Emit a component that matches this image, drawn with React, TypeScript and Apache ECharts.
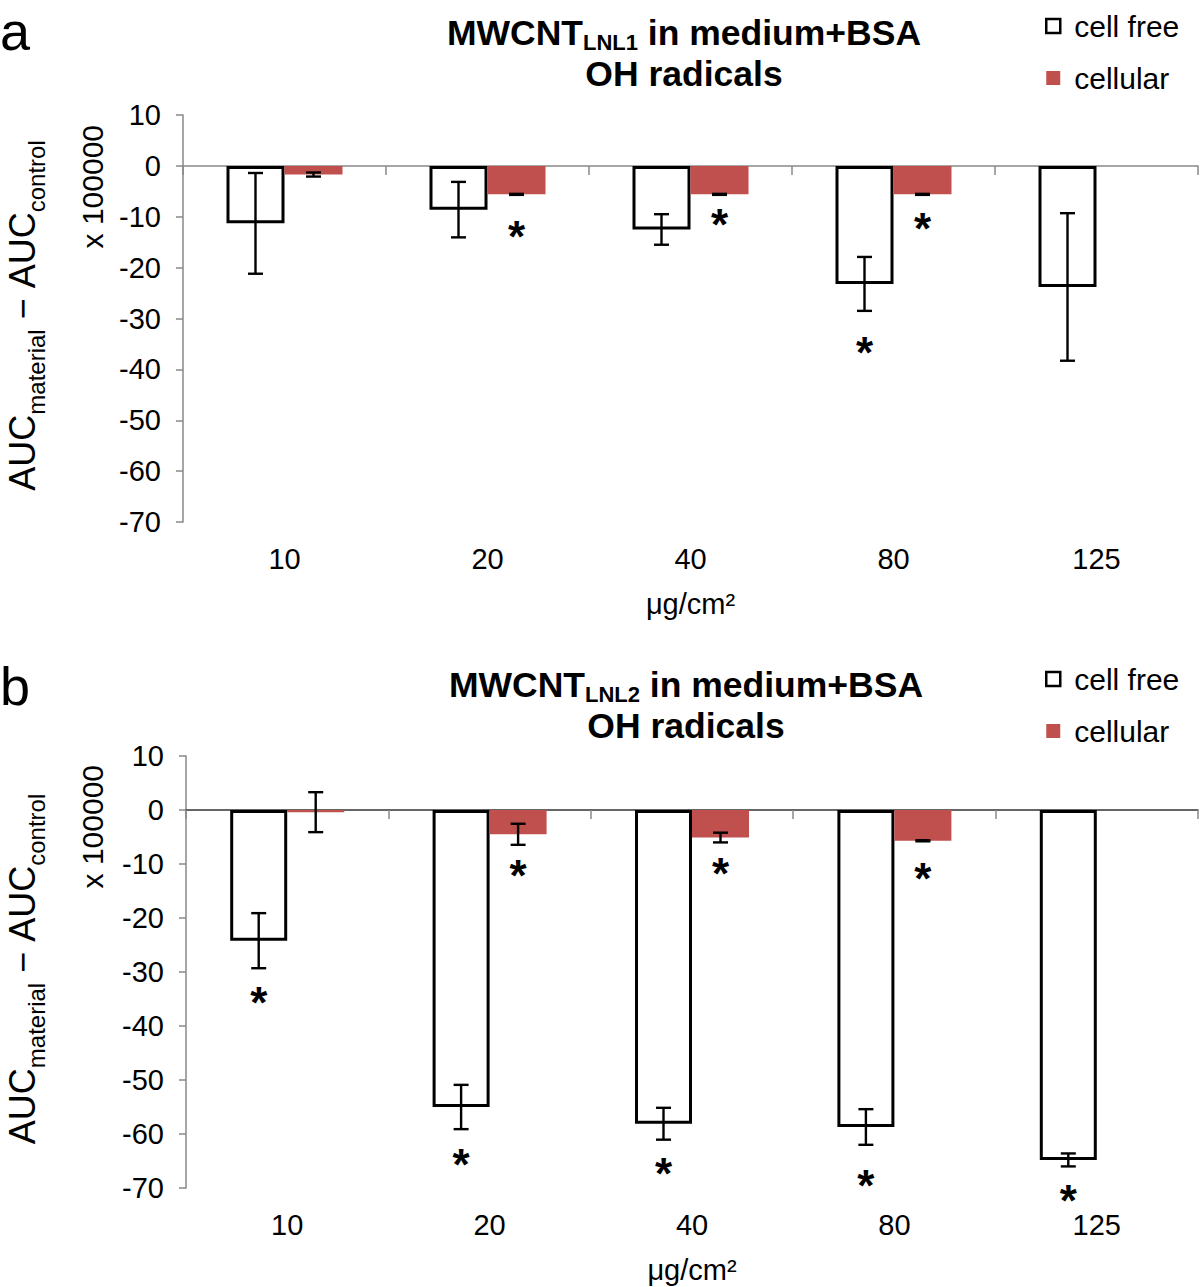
import React, { useEffect, useRef } from 'react';
import * as echarts from 'echarts';

// ---------------- data ----------------
const categories = ['10', '20', '40', '80', '125'];

// panel a : MWCNT LNL1
const cellFreeA = [-11.3, -8.6, -12.5, -23.2, -23.8];
const cellFreeErrA = [9.9, 5.45, 3.0, 5.3, 14.5];
const cellularA: (number | null)[] = [-1.7, -5.6, -5.6, -5.6, null];
const cellularErrA: (number | null)[] = [0.4, 0.1, 0.1, 0.1, null];
const starCellFreeA: (number | null)[] = [null, null, null, -35.6, null];
const starCellularA: (number | null)[] = [null, -12.8, -10.4, -11.2, null];

// panel b : MWCNT LNL2
const cellFreeB = [-24.2, -55.0, -58.1, -58.7, -64.8];
const cellFreeErrB = [5.1, 4.1, 2.95, 3.3, 1.2];
const cellularB: (number | null)[] = [-0.4, -4.5, -5.1, -5.7, null];
const cellularErrB: (number | null)[] = [3.7, 1.95, 0.9, 0.1, null];
const starCellFreeB: (number | null)[] = [-34.6, -64.6, -66.3, -68.5, -71.3];
const starCellularB: (number | null)[] = [null, -11.1, -10.7, -11.7, null];

const yMin = -70;
const yMax = 10;
const yInterval = 10;

const seriesNames = ['cell free', 'cellular'];
const xAxisName = 'μg/cm²';

// ---------------- style ----------------
const FONT = '"Liberation Sans", Arial, Helvetica, sans-serif';
const RED = '#C0504D';
const STAR_SIZE = 44;

let measureCtx: CanvasRenderingContext2D | null = null;
function textWidth(t: string, size: number, weight: string) {
  if (!measureCtx) measureCtx = document.createElement('canvas').getContext('2d');
  measureCtx!.font = `${weight} ${size}px ${FONT}`;
  return measureCtx!.measureText(t).width;
}

type Part = { text: string; size: number; drop: number };

// builds text elements laid out along local x with baseline at local y = 0
function lineParts(parts: Part[], weight: string, startX: number) {
  let x = startX;
  const out: any[] = [];
  parts.forEach((p) => {
    out.push({
      type: 'text',
      x,
      y: p.drop - 0.3465 * p.size,
      style: {
        text: p.text,
        fontSize: p.size,
        fontWeight: weight,
        fontFamily: FONT,
        fill: '#000',
        align: 'left',
        verticalAlign: 'middle',
      },
    });
    x += textWidth(p.text, p.size, weight);
  });
  return out;
}
function partsWidth(parts: Part[], weight: string) {
  return parts.reduce((s, p) => s + textWidth(p.text, p.size, weight), 0);
}

type Panel = {
  grid: { left: number; top: number; width: number; height: number };
  barWidth: number;
  zeroColor: string;
  letter: string;
  letterBase: number;
  sub: string;
  titleCx: number;
  titleBase: [number, number];
  legendTop: number;
  yNameTop: number;
  cf: (number | null)[];
  cfErr: (number | null)[];
  cell: (number | null)[];
  cellErr: (number | null)[];
  starCf: (number | null)[];
  starCell: (number | null)[];
};

const panels: Panel[] = [
  {
    grid: { left: 183, top: 115, width: 1015, height: 407 },
    barWidth: 58,
    zeroColor: '#888',
    letter: 'a',
    letterBase: 50,
    sub: 'LNL1',
    titleCx: 684,
    titleBase: [45, 86],
    legendTop: 6,
    yNameTop: 125,
    cf: cellFreeA,
    cfErr: cellFreeErrA,
    cell: cellularA,
    cellErr: cellularErrA,
    starCf: starCellFreeA,
    starCell: starCellularA,
  },
  {
    grid: { left: 186, top: 756, width: 1012, height: 432 },
    barWidth: 57,
    zeroColor: '#333',
    letter: 'b',
    letterBase: 705,
    sub: 'LNL2',
    titleCx: 686,
    titleBase: [697, 738],
    legendTop: 659,
    yNameTop: 765,
    cf: cellFreeB,
    cfErr: cellFreeErrB,
    cell: cellularB,
    cellErr: cellularErrB,
    starCf: starCellFreeB,
    starCell: starCellularB,
  },
];

const makeErr = (offset: number) => (_params: any, api: any) => {
  const i = api.value(0);
  const v = api.value(1);
  const e = api.value(2);
  const p1 = api.coord([i, v + e]);
  const p2 = api.coord([i, v - e]);
  const x = p1[0] + offset;
  const half = 7.5;
  const style = { stroke: '#000', lineWidth: 2.4, fill: 'none' };
  return {
    type: 'group',
    children: [
      { type: 'line', shape: { x1: x, y1: p1[1], x2: x, y2: p2[1] }, style },
      { type: 'line', shape: { x1: x - half, y1: p1[1], x2: x + half, y2: p1[1] }, style },
      { type: 'line', shape: { x1: x - half, y1: p2[1], x2: x + half, y2: p2[1] }, style },
    ],
  };
};

const makeStar = (offset: number) => (_params: any, api: any) => {
  const p = api.coord([api.value(0), api.value(1)]);
  return {
    type: 'text',
    x: p[0] + offset,
    y: p[1] + 0.12 * STAR_SIZE,
    style: {
      text: '*',
      fontSize: STAR_SIZE,
      fontWeight: 'bold',
      fontFamily: FONT,
      fill: '#000',
      align: 'center',
      verticalAlign: 'middle',
    },
  };
};

function errData(vals: (number | null)[], errs: (number | null)[]) {
  const out: number[][] = [];
  vals.forEach((v, i) => {
    const e = errs[i];
    if (v != null && e != null) out.push([i, v, e]);
  });
  return out;
}
function starData(vals: (number | null)[]) {
  const out: number[][] = [];
  vals.forEach((v, i) => {
    if (v != null) out.push([i, v]);
  });
  return out;
}

function buildOption() {
  const grid: any[] = [];
  const xAxis: any[] = [];
  const yAxis: any[] = [];
  const series: any[] = [];
  const legend: any[] = [];
  const graphic: any[] = [];

  panels.forEach((pn, k) => {
    grid.push({ ...pn.grid, containLabel: false });
    const xi = k * 2;
    xAxis.push({
      gridIndex: k,
      type: 'category',
      data: categories,
      axisLine: { show: true, onZero: true, lineStyle: { color: pn.zeroColor, width: 1.5 } },
      axisTick: { show: true, length: 9, lineStyle: { color: '#888', width: 1.5 } },
      axisLabel: { show: false },
      splitLine: { show: false },
    });
    xAxis.push({
      gridIndex: k,
      type: 'category',
      data: categories,
      position: 'bottom',
      axisLine: { show: false, onZero: false },
      axisTick: { show: false },
      axisLabel: { show: true, fontSize: 29, color: '#000', fontFamily: FONT, margin: 22 },
      name: xAxisName,
      nameLocation: 'middle',
      nameGap: 67,
      nameTextStyle: { fontSize: 29, color: '#000', fontFamily: FONT },
      splitLine: { show: false },
    });
    yAxis.push({
      gridIndex: k,
      type: 'value',
      min: yMin,
      max: yMax,
      interval: yInterval,
      axisLine: { show: true, lineStyle: { color: '#888', width: 1.5 } },
      axisTick: { show: true, length: 7, lineStyle: { color: '#888', width: 1.5 } },
      axisLabel: { fontSize: 29, color: '#000', fontFamily: FONT, margin: 22 },
      splitLine: { show: false },
    });

    const bw = pn.barWidth;
    series.push({
      type: 'bar',
      name: seriesNames[0],
      xAxisIndex: xi,
      yAxisIndex: k,
      data: pn.cf.map((v) => (v == null ? '-' : v)),
      barWidth: bw,
      barGap: '0%',
      itemStyle: { color: '#fff', borderColor: '#000', borderWidth: 3 },
      z: 2,
    });
    series.push({
      type: 'bar',
      name: seriesNames[1],
      xAxisIndex: xi,
      yAxisIndex: k,
      data: pn.cell.map((v) => (v == null ? '-' : v)),
      barWidth: bw,
      barGap: '0%',
      itemStyle: { color: RED },
      z: 2,
    });
    series.push({
      type: 'custom',
      name: 'err-cf-' + k,
      xAxisIndex: xi,
      yAxisIndex: k,
      renderItem: makeErr(-bw / 2),
      data: errData(pn.cf, pn.cfErr),
      encode: { x: 0, y: 1 },
      z: 5,
      silent: true,
    });
    series.push({
      type: 'custom',
      name: 'err-cell-' + k,
      xAxisIndex: xi,
      yAxisIndex: k,
      renderItem: makeErr(bw / 2),
      data: errData(pn.cell, pn.cellErr),
      encode: { x: 0, y: 1 },
      z: 5,
      silent: true,
    });
    series.push({
      type: 'custom',
      name: 'star-cf-' + k,
      xAxisIndex: xi,
      yAxisIndex: k,
      renderItem: makeStar(-bw / 2),
      data: starData(pn.starCf),
      encode: { x: 0, y: 1 },
      clip: false,
      z: 5,
      silent: true,
    });
    series.push({
      type: 'custom',
      name: 'star-cell-' + k,
      xAxisIndex: xi,
      yAxisIndex: k,
      renderItem: makeStar(bw / 2),
      data: starData(pn.starCell),
      encode: { x: 0, y: 1 },
      clip: false,
      z: 5,
      silent: true,
    });

    legend.push({
      left: 1040,
      top: pn.legendTop,
      orient: 'vertical',
      itemWidth: 14,
      itemHeight: 14,
      itemGap: 22,
      selectedMode: false,
      textStyle: { fontSize: 30, color: '#000', fontFamily: FONT, padding: [0, 0, 0, 9] },
      data: [
        { name: seriesNames[0], icon: 'rect', itemStyle: { color: '#fff', borderColor: '#000', borderWidth: 2.5 } },
        { name: seriesNames[1], icon: 'rect', itemStyle: { color: RED, borderWidth: 0 } },
      ],
    });

    // panel letter
    graphic.push({
      type: 'text',
      x: 0,
      y: pn.letterBase - 0.3465 * 54,
      style: { text: pn.letter, fontSize: 54, fontFamily: FONT, fill: '#000', align: 'left', verticalAlign: 'middle' },
    });

    // title line 1 with subscript
    const t1: Part[] = [
      { text: 'MWCNT', size: 35.5, drop: 0 },
      { text: pn.sub, size: 22, drop: 5 },
      { text: ' in medium+BSA', size: 35.5, drop: 0 },
    ];
    const w1 = partsWidth(t1, 'bold');
    graphic.push({
      type: 'group',
      x: pn.titleCx - w1 / 2,
      y: pn.titleBase[0],
      children: lineParts(t1, 'bold', 0),
    });
    const t2: Part[] = [{ text: 'OH radicals', size: 35.5, drop: 0 }];
    const w2 = partsWidth(t2, 'bold');
    graphic.push({
      type: 'group',
      x: pn.titleCx - w2 / 2,
      y: pn.titleBase[1],
      children: lineParts(t2, 'bold', 0),
    });

    // rotated y axis name
    const yn: Part[] = [
      { text: 'AUC', size: 36, drop: 0 },
      { text: 'material', size: 24, drop: 10 },
      { text: ' − ', size: 36, drop: 0 },
      { text: 'AUC', size: 36, drop: 0 },
      { text: 'control', size: 24, drop: 10 },
    ];
    const wy = partsWidth(yn, 'normal');
    const gc = pn.grid.top + pn.grid.height / 2 - 3;
    graphic.push({
      type: 'group',
      x: 35,
      y: gc + wy / 2,
      rotation: Math.PI / 2,
      children: lineParts(yn, 'normal', 0),
    });
    const sc: Part[] = [{ text: 'x 100000', size: 30, drop: 0 }];
    const ws = partsWidth(sc, 'normal');
    graphic.push({
      type: 'group',
      x: 103,
      y: pn.yNameTop + ws,
      rotation: Math.PI / 2,
      children: lineParts(sc, 'normal', 0),
    });
  });

  return {
    animation: false,
    backgroundColor: '#fff',
    textStyle: { fontFamily: FONT },
    grid,
    xAxis,
    yAxis,
    legend,
    series,
    graphic,
  };
}

export default function App() {
  const ref = useRef<HTMLDivElement>(null);
  useEffect(() => {
    const chart = echarts.init(ref.current!, null, { renderer: 'svg' });
    chart.setOption(buildOption() as any);
    return () => chart.dispose();
  }, []);
  return (
    <div
      ref={ref}
      style={{ position: 'absolute', left: 0, top: 0, width: 1200, height: 1287, background: '#fff' }}
    />
  );
}
